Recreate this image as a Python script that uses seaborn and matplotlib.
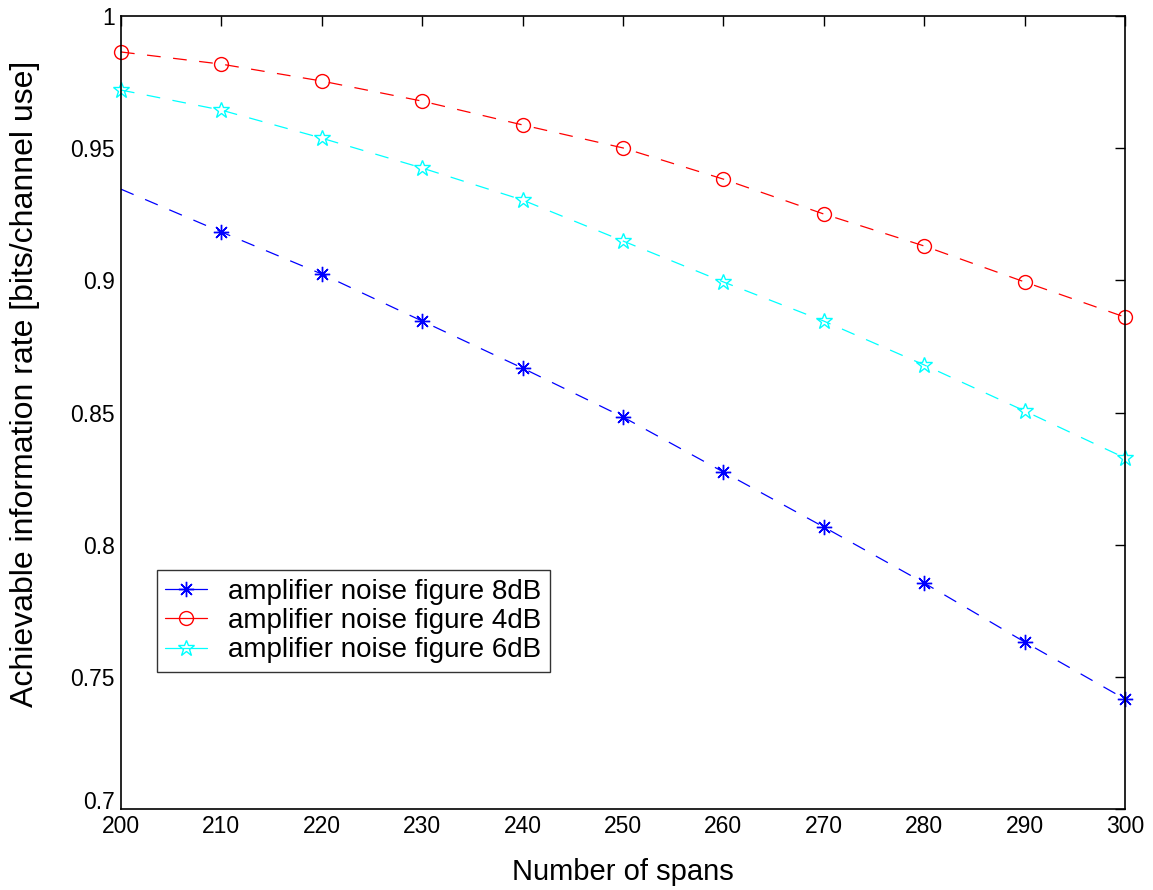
import matplotlib
matplotlib.use("Agg")
import matplotlib.pyplot as plt
from matplotlib.lines import Line2D
import seaborn as sns
import pandas as pd

# data
spans = [200, 210, 220, 230, 240, 250, 260, 270, 280, 290, 300]
rate_8db = [0.9345, 0.9183, 0.9024, 0.8846, 0.8668, 0.8483, 0.8275, 0.8067, 0.7855, 0.7632, 0.7416]
rate_4db = [0.9864, 0.9818, 0.9754, 0.9678, 0.9588, 0.9501, 0.9383, 0.9251, 0.9130, 0.8994, 0.8861]
rate_6db = [0.9720, 0.9644, 0.9538, 0.9425, 0.9304, 0.9149, 0.8994, 0.8846, 0.8680, 0.8506, 0.8328]
labels = ["amplifier noise figure 8dB", "amplifier noise figure 4dB", "amplifier noise figure 6dB"]

sns.set_style("white")
plt.rcParams['font.family'] = ['Liberation Sans', 'DejaVu Sans']
plt.rcParams['text.color'] = 'black'
plt.rcParams['axes.labelcolor'] = 'black'

fig = plt.figure(figsize=(11.53, 8.90), dpi=100)
ax = fig.add_axes([0.1049, 0.0910, 0.8708, 0.8910])

asterisk = (8, 2, 0)
series = [
    (rate_8db, "#0000ff", asterisk, 11, list(range(1, 11))),
    (rate_4db, "#ff0000", "o", 10, None),
    (rate_6db, "#00ffff", "*", 12, None),
]

handles = []
for (vals, col, mk, ms, every), lab in zip(series, labels):
    df = pd.DataFrame({"spans": spans, "rate": vals})
    sns.lineplot(data=df, x="spans", y="rate", ax=ax, color=col, linestyle="--",
                 dashes=False, linewidth=0.9, marker=mk, markersize=ms,
                 markerfacecolor="none", markeredgecolor=col, markeredgewidth=1.0,
                 markevery=every, clip_on=False, legend=False)
    ax.lines[-1].set_dashes([11, 10])
    handles.append(Line2D([], [], color=col, linestyle="-", linewidth=0.9, marker=mk,
                          markersize=ms, markerfacecolor="none", markeredgecolor=col))

ax.set_xlim(200, 300)
ax.set_ylim(0.7, 1.0)
ax.set_xticks(range(200, 301, 10))
ax.set_yticks([0.7, 0.75, 0.8, 0.85, 0.9, 0.95, 1.0])
ax.set_yticklabels(["0.7", "0.75", "0.8", "0.85", "0.9", "0.95", "1"])
ax.tick_params(direction="in", length=7, width=1, top=True, right=True,
               labelsize=16.5, colors="black", labelcolor="black", pad=4.5)
ax.get_yticklabels()[0].set_va("baseline")
for sp in ax.spines.values():
    sp.set_color("black")
    sp.set_linewidth(1.2)

ax.set_xlabel("Number of spans", fontsize=21, color="black")
ax.set_ylabel("Achievable information rate [bits/channel use]", fontsize=23, color="black")
ax.xaxis.set_label_coords(0.5, -0.062)
ax.yaxis.set_label_coords(-0.081, 0.536)

leg = ax.legend(handles, labels, loc="lower left", bbox_to_anchor=(0.036, 0.173),
                fontsize=20, frameon=True, fancybox=False, edgecolor="black",
                handlelength=1.5, borderpad=0.3, labelspacing=0.12, handletextpad=0.75,
                borderaxespad=0, labelcolor="black")
leg.get_frame().set_linewidth(1.0)

fig.savefig("out.png", dpi=100)
